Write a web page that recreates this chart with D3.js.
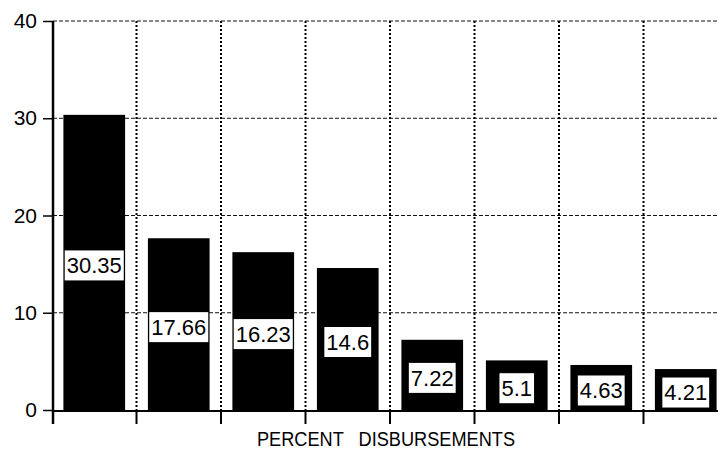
<!DOCTYPE html>
<html>
<head>
<meta charset="utf-8">
<script src="https://cdn.jsdelivr.net/npm/d3@7"></script>
<style>
  body { margin: 0; background: #fff; }
  svg { display: block; font-family: "Liberation Sans", Arial, sans-serif; }
</style>
</head>
<body>
<svg id="chart" width="718" height="449"></svg>
<script>
// values
var categories = ["c1", "c2", "c3", "c4", "c5", "c6", "c7", "c8"];
var values = [30.35, 17.66, 16.23, 14.6, 7.22, 5.1, 4.63, 4.21];
var labels = ["30.35", "17.66", "16.23", "14.6", "7.22", "5.1", "4.63", "4.21"];
var yTicks = [0, 10, 20, 30, 40];
var xTitle = "PERCENT   DISBURSEMENTS";

var svg = d3.select("#chart");
var W = 718;

var x = d3.scaleBand()
    .domain(categories)
    .range([52, 728])
    .paddingInner(0.27)
    .paddingOuter(0.135);
var xb = d3.scaleBand().domain(categories).range([52, 728]); // full bands for grid/ticks
var y = d3.scaleLinear().domain([0, 40]).range([410, 21]);

// horizontal grid
svg.append("g").selectAll("line")
    .data(yTicks.filter(function (d) { return d > 0; }))
    .join("line")
    .attr("x1", 53).attr("x2", W)
    .attr("y1", function (d) { return y(d); })
    .attr("y2", function (d) { return y(d); })
    .attr("stroke", "#111")
    .attr("stroke-width", 1)
    .attr("stroke-dasharray", "4,2");

// vertical grid at band boundaries
var bounds = categories.slice(1).map(function (c) { return xb(c); });
svg.append("g").selectAll("line")
    .data(bounds)
    .join("line")
    .attr("x1", function (d) { return d; }).attr("x2", function (d) { return d; })
    .attr("y1", y(40)).attr("y2", y(0))
    .attr("stroke", "#000")
    .attr("stroke-width", 2)
    .attr("stroke-dasharray", "2,2");

// bars
svg.append("g").selectAll("rect")
    .data(values)
    .join("rect")
    .attr("x", function (d, i) { return x(categories[i]); })
    .attr("width", x.bandwidth())
    .attr("y", function (d) { return y(d); })
    .attr("height", function (d) { return y(0) - y(d); })
    .attr("fill", "#000");

// y axis
var yAxis = d3.axisLeft(y).tickValues(yTicks).tickSize(10).tickPadding(6);
var gy = svg.append("g").attr("transform", "translate(53,0)").call(yAxis);
gy.select(".domain").remove();
gy.selectAll(".tick line").attr("stroke", "#000").attr("stroke-width", 1.5);
gy.selectAll(".tick text")
    .attr("font-size", 21)
    .attr("font-family", "Liberation Sans, Arial, sans-serif")
    .attr("fill", "#000");
svg.append("line")
    .attr("x1", 53).attr("x2", 53)
    .attr("y1", y(40)).attr("y2", 424)
    .attr("stroke", "#000").attr("stroke-width", 2.5);

// x axis baseline + ticks
svg.append("line")
    .attr("x1", 53).attr("x2", W)
    .attr("y1", y(0) + 1).attr("y2", y(0) + 1)
    .attr("stroke", "#000").attr("stroke-width", 2);
svg.append("g").selectAll("line")
    .data(bounds)
    .join("line")
    .attr("x1", function (d) { return d; }).attr("x2", function (d) { return d; })
    .attr("y1", y(0)).attr("y2", 424)
    .attr("stroke", "#000").attr("stroke-width", 2);

// value labels in white boxes, centred on each bar
var lab = svg.append("g").selectAll("g")
    .data(values)
    .join("g")
    .attr("transform", function (d, i) {
        return "translate(" + (x(categories[i]) + x.bandwidth() / 2) + "," + ((y(d) + y(0)) / 2 + 3) + ")";
    });
lab.append("rect").attr("fill", "#fff");
lab.append("text")
    .attr("text-anchor", "middle")
    .attr("dy", "0.36em")
    .attr("font-size", 22)
    .attr("fill", "#000")
    .text(function (d, i) { return labels[i]; });
lab.each(function () {
    var g = d3.select(this);
    var bb = g.select("text").node().getBBox();
    g.select("rect")
        .attr("x", bb.x - 2).attr("y", -15)
        .attr("width", bb.width + 4).attr("height", 30);
});

// axis title
svg.append("text")
    .attr("x", 386).attr("y", 446)
    .attr("text-anchor", "middle")
    .attr("font-size", 20)
    .attr("textLength", 258)
    .attr("lengthAdjust", "spacingAndGlyphs")
    .style("white-space", "pre")
    .text(xTitle);
</script>
</body>
</html>
